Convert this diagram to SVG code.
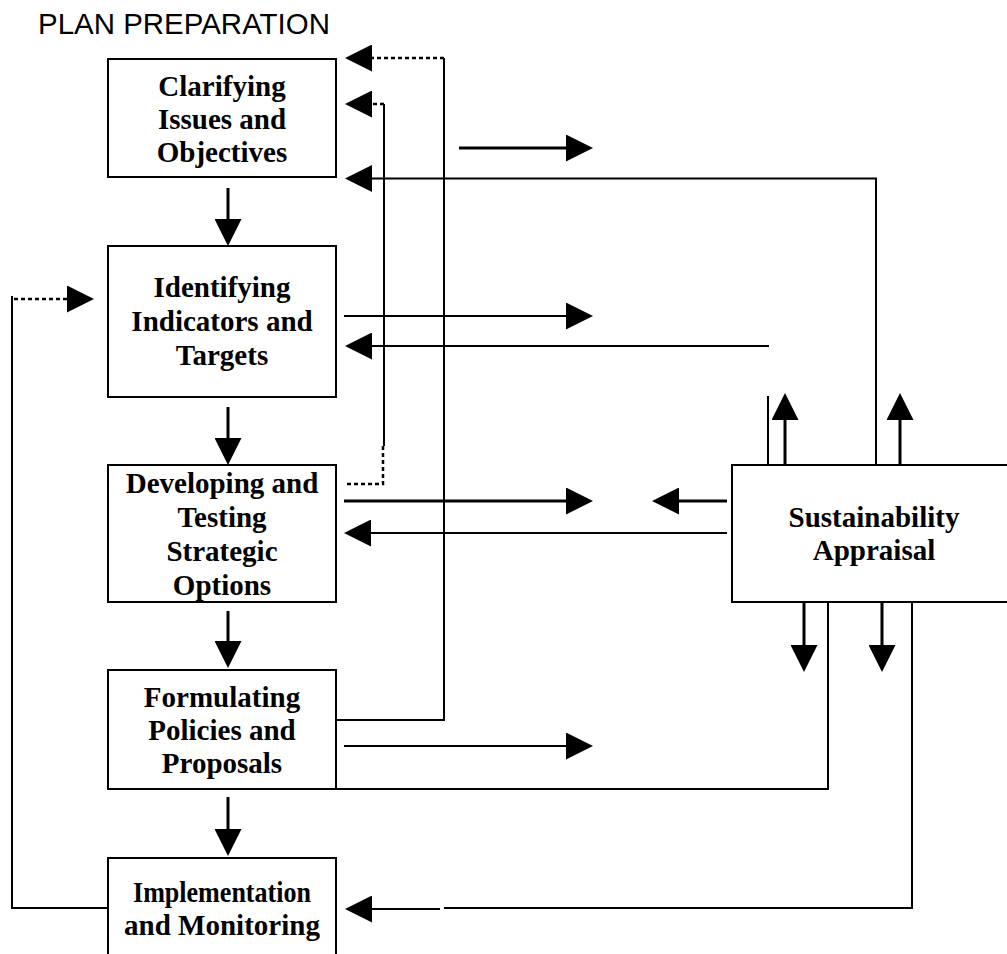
<svg xmlns="http://www.w3.org/2000/svg" width="1007" height="954" viewBox="0 0 1007 954">
  <style>
    .box { fill: #fff; stroke: #000; stroke-width: 2; }
    .lbl { font-family: "Liberation Serif", "Times New Roman", serif; font-weight: bold; font-size: 29px; text-anchor: middle; fill: #000; }
    .title { font-family: "Liberation Sans", Arial, sans-serif; font-size: 29px; fill: #000; }
    .thin { stroke-width: 2; }
    .thick { stroke-width: 3; }
    .dot { stroke-width: 2.5; stroke-dasharray: 4 3; }
    .arr { marker-end: url(#ah); }
  </style>
  <defs>
    <marker id="ah" markerUnits="userSpaceOnUse" viewBox="0 0 27 27" markerWidth="27" markerHeight="27" refX="0" refY="13.5" orient="auto">
      <path d="M0,0 L27,13.5 L0,27 Z" fill="#000" stroke="none"/>
    </marker>
  </defs>
  <rect width="1007" height="954" fill="#fff"/>
  <text class="title" x="38" y="34" textLength="292" lengthAdjust="spacingAndGlyphs">PLAN PREPARATION</text>

  <g id="connectors" fill="none" stroke="#000">
    <!-- vertical flow between boxes -->
    <path class="thick arr" d="M228,188 V219"/>
    <path class="thick arr" d="M228,407 V438"/>
    <path class="thick arr" d="M228,611 V641"/>
    <path class="thick arr" d="M228,797 V829"/>
    <!-- feedback from Formulating to Clarifying (dotted end) -->
    <path class="thin" d="M336,720 H444 V58"/>
    <path class="dot arr" d="M444,58 H372"/>
    <!-- feedback from Developing to Clarifying (dotted) -->
    <path class="dot arr" d="M384,104 H372"/>
    <path class="thin" d="M384,104 V446"/>
    <path class="dot" d="M383,446 V484 H345"/>
    <!-- arrows to the right -->
    <path class="thick arr" d="M459,148 H566"/>
    <path class="thin arr" d="M344,316 H566"/>
    <path class="thick arr" d="M344,501 H566"/>
    <path class="thin arr" d="M344,746 H566"/>
    <!-- returns from Sustainability Appraisal -->
    <path class="thin arr" d="M876,465 V178.5 H372"/>
    <path class="thin arr" d="M769,346 H372"/>
    <path class="thin" d="M768,396 V465"/>
    <path class="thick arr" d="M727,501 H679"/>
    <path class="thin arr" d="M727,533 H371"/>
    <path class="thick arr" d="M785,469 V420"/>
    <path class="thick arr" d="M900,469 V420"/>
    <path class="thick arr" d="M804,595 V645"/>
    <path class="thick arr" d="M882,595 V645"/>
    <path class="thin" d="M336,789 H828 V602"/>
    <path class="thin" d="M444,908 H912 V602"/>
    <path class="thin arr" d="M440,909 H372"/>
    <!-- monitoring loop back to Identifying -->
    <path class="thin" d="M108,908 H12 V296"/>
    <path class="dot arr" d="M14,299 H67"/>
  </g>

  <g id="node-clarifying">
    <rect class="box" x="108" y="59" width="228" height="118"/>
    <text class="lbl" x="222" y="96">Clarifying</text>
    <text class="lbl" x="222" y="129">Issues and</text>
    <text class="lbl" x="222" y="162">Objectives</text>
  </g>
  <g id="node-identifying">
    <rect class="box" x="108" y="246" width="228" height="151"/>
    <text class="lbl" x="222" y="297">Identifying</text>
    <text class="lbl" x="222" y="331">Indicators and</text>
    <text class="lbl" x="222" y="365">Targets</text>
  </g>
  <g id="node-developing">
    <rect class="box" x="108" y="465" width="228" height="137"/>
    <text class="lbl" x="222" y="493">Developing and</text>
    <text class="lbl" x="222" y="527">Testing</text>
    <text class="lbl" x="222" y="561">Strategic</text>
    <text class="lbl" x="222" y="595">Options</text>
  </g>
  <g id="node-formulating">
    <rect class="box" x="108" y="670" width="228" height="119"/>
    <text class="lbl" x="222" y="707">Formulating</text>
    <text class="lbl" x="222" y="740">Policies and</text>
    <text class="lbl" x="222" y="773">Proposals</text>
  </g>
  <g id="node-implementation">
    <rect class="box" x="108" y="858" width="228" height="110"/>
    <text class="lbl" x="222" y="902" textLength="178" lengthAdjust="spacingAndGlyphs">Implementation</text>
    <text class="lbl" x="222" y="935">and Monitoring</text>
  </g>
  <g id="node-sustainability">
    <rect class="box" x="732" y="465" width="284" height="137"/>
    <text class="lbl" x="874" y="527">Sustainability</text>
    <text class="lbl" x="874" y="560">Appraisal</text>
  </g>
</svg>
